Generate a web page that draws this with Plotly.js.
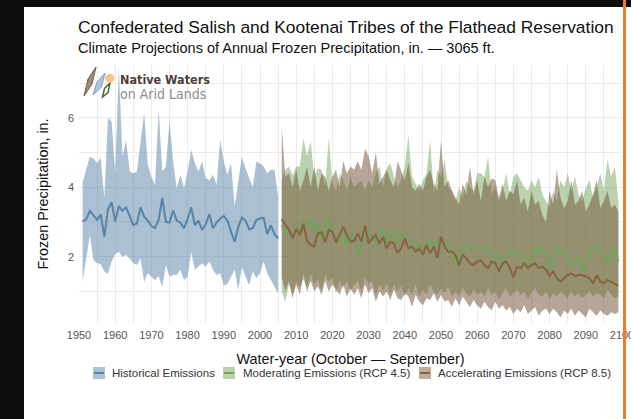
<!DOCTYPE html>
<html><head><meta charset="utf-8">
<script src="https://cdn.plot.ly/plotly-3.0.1.min.js"></script>
<style>
html,body{margin:0;padding:0;background:#0d0d0d;width:631px;height:419px;overflow:hidden;}
#chart{position:absolute;left:24px;top:7px;width:623px;height:412px;background:#fff;}
#edge{position:absolute;left:623px;top:0;width:3px;height:419px;background:#ee7d2b;}
</style></head><body>
<div id="chart"></div><div id="edge"></div>
<script>
// ---------------- DATA ----------------
const histStart = 1951, histEnd = 2005;
const projStart = 2006, projEnd = 2099;

const histMedian = [3.01,3.08,3.32,3.20,3.06,3.22,2.58,3.36,3.57,3.01,3.46,3.32,3.42,3.17,2.91,2.96,3.42,3.15,3.04,2.88,
  2.82,3.06,3.69,3.01,2.98,3.33,3.04,2.98,2.82,3.08,3.42,2.91,3.04,2.77,2.93,3.23,2.82,2.98,3.10,3.17,
  3.04,2.72,2.43,2.86,3.13,3.04,2.79,2.82,3.06,3.10,3.12,2.65,2.91,2.65,2.53];
const histUpper = [4.15,4.50,4.88,4.83,4.70,4.85,3.68,6.00,5.90,4.40,
  7.45,4.90,5.35,4.45,4.40,4.45,5.30,6.15,4.65,4.30,
  4.07,6.25,4.45,4.60,5.90,4.75,3.97,4.36,3.97,4.45,
  5.08,4.69,4.45,4.74,4.26,4.20,4.36,4.07,5.37,4.74,
  4.36,4.69,3.45,4.10,4.88,4.55,4.26,4.00,4.74,4.69,
  4.60,4.40,4.50,4.50,3.75];
const histLower = [1.28,1.90,2.63,1.90,1.81,1.79,1.57,1.50,1.86,2.08,
  2.14,2.00,2.05,1.95,1.81,1.76,1.95,1.28,1.52,1.42,
  1.33,1.44,1.13,1.76,1.42,1.47,1.47,1.62,1.33,1.42,
  2.14,1.62,1.71,1.81,1.71,1.86,1.62,1.47,1.52,1.18,
  1.21,1.42,1.62,1.04,1.71,1.42,1.18,1.57,1.38,1.52,
  1.86,1.52,1.33,1.13,0.94];

const rcp45Median = [2.91,2.67,2.75,2.58,2.82,2.67,3.00,2.91,3.10,2.82,
  2.91,2.48,2.84,3.15,2.74,2.53,2.43,2.63,2.29,2.63,
  2.53,2.05,2.29,2.77,2.53,2.63,2.43,2.34,2.82,2.38,
  2.67,2.72,2.38,2.63,2.67,2.63,2.29,2.14,2.38,2.24,
  2.33,2.43,2.29,2.43,2.53,2.24,2.38,2.05,1.76,1.90,
  2.24,2.38,2.24,2.19,2.29,2.24,2.19,2.24,2.10,1.96,
  2.05,1.76,1.96,2.19,2.10,2.00,2.10,1.86,1.76,2.05,
  2.29,2.05,2.33,1.96,1.63,1.96,2.29,2.19,2.10,2.05,
  1.76,1.81,2.00,1.57,1.86,2.14,2.29,2.24,2.10,2.05,
  1.76,2.10,2.24,1.87];
const rcp45Upper = [4.2,4.5,4.6,4.35,4.6,4.6,5.4,4.9,5.3,4.3,
  4.55,4.5,4.0,5.45,4.1,3.9,4.4,4.2,3.9,4.3,
  4.0,4.1,4.2,3.9,4.2,4.0,4.4,4.6,4.0,4.55,
  4.7,4.3,4.0,4.2,4.6,5.5,4.3,4.1,3.9,4.2,
  4.4,5.35,3.8,4.5,4.3,4.8,4.0,3.9,3.6,4.0,
  3.7,4.2,4.0,3.9,4.4,4.4,4.3,4.88,3.8,4.0,
  3.6,3.9,4.4,3.8,4.3,4.4,4.2,4.0,3.9,4.2,
  4.0,4.3,3.8,3.6,3.4,3.9,3.6,4.2,4.0,4.4,
  3.9,4.3,3.8,3.6,4.0,4.2,3.7,4.0,4.4,3.9,
  4.8,4.3,4.6,3.6];
const rcp45Lower = [1.0,0.7,1.2,0.9,1.3,1.1,1.35,1.1,1.5,1.2,
  1.35,1.0,1.5,1.25,1.4,0.95,1.3,1.1,1.3,1.0,
  1.2,1.3,1.0,1.4,1.2,1.3,0.9,1.2,1.0,1.25,
  0.9,1.2,1.0,1.15,0.85,1.1,0.9,1.2,0.85,1.05,
  0.9,1.2,1.0,0.9,1.1,0.95,1.15,0.85,1.0,0.85,
  1.1,0.95,0.85,1.05,0.9,1.0,0.85,1.1,0.9,1.0,
  0.75,0.95,1.1,0.85,0.95,1.05,0.9,1.0,0.8,0.95,
  1.1,0.9,0.85,1.0,0.8,0.95,0.85,1.0,0.9,0.8,
  1.0,0.85,0.95,0.8,0.9,1.0,0.85,0.95,0.9,0.8,
  1.05,0.9,0.8,0.85];

const rcp85Median = [3.08,2.94,2.77,2.53,2.79,2.62,2.94,2.45,2.34,2.29,
  2.68,2.70,2.42,2.77,2.72,2.40,2.62,2.86,2.62,2.44,
  2.45,2.67,2.44,2.90,2.38,2.53,2.62,2.38,2.57,2.24,
  2.43,2.38,2.10,2.24,2.53,2.24,2.29,2.14,2.24,2.05,
  2.33,2.10,2.29,1.96,2.58,2.29,2.14,2.14,2.05,1.76,
  2.05,1.96,1.81,1.76,1.86,1.90,1.76,1.67,1.86,1.81,
  1.57,1.81,1.86,1.67,1.40,1.71,1.67,1.81,1.67,1.76,
  1.81,1.67,1.71,1.62,1.45,1.57,1.38,1.28,1.38,1.47,
  1.52,1.43,1.47,1.47,1.43,1.38,1.23,1.47,1.28,1.23,
  1.33,1.28,1.23,1.16];
const rcp85Upper = [5.75,4.3,4.4,4.0,4.5,3.9,4.2,4.6,4.0,4.6,
  3.9,4.4,4.3,3.9,4.3,4.5,4.0,4.75,4.4,4.6,
  4.5,4.75,4.5,5.1,4.9,4.4,5.0,4.1,4.3,4.5,
  4.2,4.0,4.75,4.5,4.2,4.7,4.0,3.9,4.1,3.9,
  4.3,4.5,4.1,3.9,5.35,4.0,4.2,3.9,3.7,3.5,
  4.1,3.8,4.6,3.8,4.2,3.6,4.3,4.0,4.25,4.2,
  3.7,4.1,3.6,3.9,3.8,4.2,3.5,3.7,3.3,3.9,
  3.5,3.6,3.2,3.0,3.9,3.5,4.5,3.7,3.4,3.6,
  4.2,3.5,3.6,3.9,3.3,3.5,3.8,4.2,3.4,3.6,
  3.9,3.4,3.5,3.3];
const rcp85Lower = [1.4,1.0,1.3,0.8,1.2,0.9,1.5,1.0,1.3,1.0,
  1.15,0.9,1.3,1.0,1.2,1.05,0.9,1.2,0.85,1.1,
  0.9,1.1,0.8,1.2,0.95,1.1,0.7,1.0,0.85,1.0,
  0.75,1.05,0.8,0.75,0.95,0.85,0.55,0.9,0.7,0.6,
  0.8,0.75,0.95,0.7,0.9,0.7,0.75,0.55,0.8,0.6,
  0.85,0.7,0.55,0.75,0.6,0.5,0.7,0.55,0.45,0.7,
  0.5,0.6,0.45,0.55,0.35,0.5,0.4,0.6,0.35,0.45,
  0.55,0.3,0.45,0.5,0.35,0.5,0.4,0.25,0.45,0.35,
  0.5,0.3,0.45,0.35,0.25,0.5,0.4,0.3,0.45,0.35,
  0.3,0.4,0.35,0.4];

const seriesNames = ['Historical Emissions', 'Moderating Emissions (RCP 4.5)', 'Accelerating Emissions (RCP 8.5)'];
const xTitle = 'Water-year (October \u2014 September)';
const yTitle = 'Frozen Precipitation, in.';
const mainTitle = 'Confederated Salish and Kootenai Tribes of the Flathead Reservation';
const subTitle = 'Climate Projections of Annual Frozen Precipitation, in. \u2014 3065 ft.';
const logoLine1 = 'Native Waters';
const logoLine2 = 'on Arid Lands';

// ---------------- STYLE ----------------
const FONT = '"Liberation Sans", Arial, Helvetica, sans-serif';
const LOGOFONT = '"DejaVu Sans Condensed", "Liberation Sans", sans-serif';
const lineCols = ['#5784a8', '#6ea45b', '#87633f'];
const fillCols = ['rgba(88,132,168,0.5)', 'rgba(110,160,85,0.48)', 'rgba(115,85,55,0.52)'];
const swatchFill = ['#acc3d5', '#bad2ae', '#bfae9a'];

function yearsFrom(a, b) { const o = []; for (let y = a; y <= b; y++) o.push(y); return o; }
const histYears = yearsFrom(histStart, histEnd);
const projYears = yearsFrom(projStart, projEnd);

function band(x, lo, hi, i) {
  return [
    {x: x, y: lo, type: 'scatter', mode: 'lines', line: {width: 0, color: lineCols[i]}, hoverinfo: 'skip', showlegend: false},
    {x: x, y: hi, type: 'scatter', mode: 'lines', fill: 'tonexty', fillcolor: fillCols[i], line: {width: 0, color: lineCols[i]}, hoverinfo: 'skip', showlegend: false, name: seriesNames[i]}
  ];
}
function med(x, y, i) {
  return {x: x, y: y, type: 'scatter', mode: 'lines', line: {width: 2, color: lineCols[i]}, name: seriesNames[i], showlegend: false};
}

const traces = [].concat(
  band(histYears, histLower, histUpper, 0),
  band(projYears, rcp45Lower, rcp45Upper, 1),
  band(projYears, rcp85Lower, rcp85Upper, 2),
  [med(histYears, histMedian, 0), med(projYears, rcp45Median, 1), med(projYears, rcp85Median, 2)]
);

// geometry helpers (page pixel -> paper coordinates)
const M = {l: 55, r: 25, t: 58, b: 96};
const W = 623, H = 412, OX = 24, OY = 7;
const PW = W - M.l - M.r, PH = H - M.t - M.b;
const PL = OX + M.l, PB = OY + M.t + PH;
const px = v => (v - PL) / PW;
const py = v => (PB - v) / PH;
function poly(pts) { return 'M' + pts.map(p => px(p[0]) + ',' + py(p[1])).join('L') + 'Z'; }

const shapes = [
  // logo
  {type: 'path', xref: 'paper', yref: 'paper', path: poly([[84,96],[88,79],[96,67],[92,84]]), fillcolor: '#a08c70', line: {color: '#6e5e48', width: 1}},
  {type: 'path', xref: 'paper', yref: 'paper', path: poly([[93,95],[97,82],[105,73],[101.5,87]]), fillcolor: '#a9c6de', line: {color: '#7fa3c0', width: 1}},
  {type: 'path', xref: 'paper', yref: 'paper', path: poly([[102.5,97],[104.5,88.5],[110,83],[108,92.5]]), fillcolor: '#ffffff', line: {color: '#3f6e33', width: 1.5}},
  {type: 'circle', xref: 'paper', yref: 'paper', x0: px(105), x1: px(114.5), y0: py(83), y1: py(73.5), fillcolor: '#f6c88f', line: {width: 0}}
];
const annotations = [
  {text: mainTitle, xref: 'paper', yref: 'paper', x: px(76), y: py(27), xanchor: 'left', yanchor: 'middle', showarrow: false, font: {size: 17.4, color: '#111'}},
  {text: subTitle, xref: 'paper', yref: 'paper', x: px(76), y: py(48), xanchor: 'left', yanchor: 'middle', showarrow: false, font: {size: 14.5, color: '#111'}},
  {text: '<b>' + logoLine1 + '</b>', xref: 'paper', yref: 'paper', x: px(118), y: py(79), xanchor: 'left', yanchor: 'middle', showarrow: false, font: {family: LOGOFONT, size: 12.5, color: '#4b3e38'}},
  {text: logoLine2, xref: 'paper', yref: 'paper', x: px(118), y: py(94), xanchor: 'left', yanchor: 'middle', showarrow: false, font: {family: LOGOFONT, size: 14, color: '#8d8d8d'}}
];

// custom legend
const legSw = [93, 223, 419];
const legTx = [110, 241, 436];
const legY = 373;
for (let i = 0; i < 3; i++) {
  shapes.push({type: 'rect', xref: 'paper', yref: 'paper', x0: px(legSw[i]), x1: px(legSw[i] + 12), y0: py(legY + 6), y1: py(legY - 6), fillcolor: swatchFill[i], line: {width: 0}});
  shapes.push({type: 'line', xref: 'paper', yref: 'paper', x0: px(legSw[i] + 1), x1: px(legSw[i] + 11), y0: py(legY), y1: py(legY), line: {color: lineCols[i], width: 2}});
  annotations.push({text: seriesNames[i], xref: 'paper', yref: 'paper', x: px(legTx[i]), y: py(legY), xanchor: 'left', yanchor: 'middle', showarrow: false, font: {size: 11.5, color: '#333'}});
}

const grid = '#ebebeb';
const layout = {
  width: W, height: H, margin: M,
  paper_bgcolor: '#fff', plot_bgcolor: '#fff',
  font: {family: FONT, color: '#4d4d4d'},
  showlegend: false,
  xaxis: {range: [1950, 2100], tick0: 1950, dtick: 10, showgrid: true, gridcolor: grid, gridwidth: 1, zeroline: false, showline: false, ticks: '',
    tickfont: {size: 11, color: '#555'}, ticklabelstandoff: 4, minor: {dtick: 5, showgrid: true, gridcolor: grid, gridwidth: 1},
    title: {text: xTitle, font: {size: 14.4, color: '#111'}, standoff: 13}, automargin: false, fixedrange: true},
  yaxis: {range: [0.09, 7.52], tick0: 0, dtick: 2, showgrid: true, gridcolor: grid, gridwidth: 1, zeroline: false, showline: false, ticks: '',
    tickfont: {size: 11, color: '#555'}, ticklabelstandoff: 4, minor: {dtick: 1, showgrid: true, gridcolor: grid, gridwidth: 1},
    title: {text: yTitle, font: {size: 14.4, color: '#111'}, standoff: 15}, automargin: false, fixedrange: true},
  shapes: shapes,
  annotations: annotations
};

Plotly.newPlot('chart', traces, layout, {displayModeBar: false, staticPlot: true});
</script></body></html>
